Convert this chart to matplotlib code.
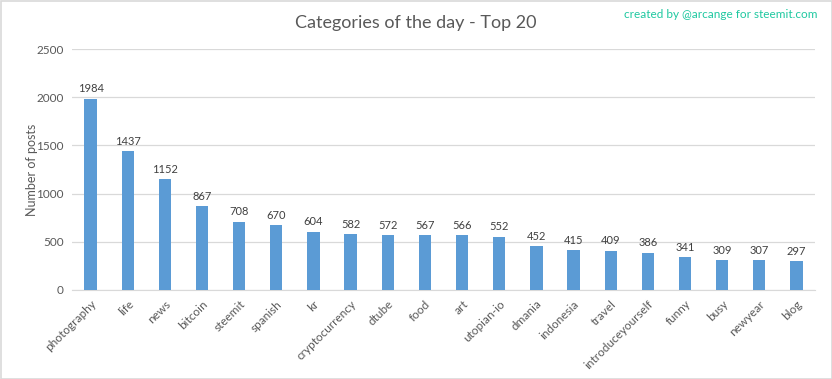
import matplotlib
matplotlib.use("Agg")
import matplotlib.pyplot as plt
from matplotlib.patches import Rectangle

categories = ["photography", "life", "news", "bitcoin", "steemit", "spanish", "kr",
              "cryptocurrency", "dtube", "food", "art", "utopian-io", "dmania",
              "indonesia", "travel", "introduceyourself", "funny", "busy", "newyear", "blog"]
posts = [1984, 1437, 1152, 867, 708, 670, 604, 582, 572, 567, 566, 552, 452,
         415, 409, 386, 341, 309, 307, 297]
yticks = [0, 500, 1000, 1500, 2000, 2500]

plt.rcParams['font.family'] = ['Lato', 'DejaVu Sans']
txt = '#595959'

fig = plt.figure(figsize=(8.32, 3.79), dpi=100)
ax = fig.add_axes([72/832, 1-290/379, (815-72)/832, (290-49)/379])

x = list(range(len(categories)))
bars = ax.bar(x, posts, width=0.33, color='#5B9BD5', zorder=3)
for xi, v in zip(x, posts):
    ax.text(xi, v + 45, str(v), ha='center', va='bottom', fontsize=8, color='#404040')

ax.set_xlim(-0.5, len(categories) - 0.5)
ax.set_ylim(0, 2500)
ax.set_yticks(yticks)
ax.set_yticklabels([str(t) for t in yticks], fontsize=8.5, color=txt)
ax.yaxis.grid(True, color='#d9d9d9', linewidth=0.9, zorder=0)
ax.set_xticks(x)
ax.set_xticklabels(categories, rotation=45, ha='right', rotation_mode='anchor',
                   fontsize=8.5, color=txt)
ax.tick_params(axis='both', length=0, pad=6)
for s in ['top', 'right', 'left']:
    ax.spines[s].set_visible(False)
ax.spines['bottom'].set_color('#d9d9d9')
ax.set_ylabel('Number of posts', fontsize=9, color=txt, labelpad=-1)

fig.text(0.5, 1-23/379, 'Categories of the day - Top 20', ha='center', va='center',
         fontsize=13, color=txt)
fig.text(1-14/832, 1-14/379, 'created by @arcange for steemit.com', ha='right', va='center',
         fontsize=8.5, color='#1ec8a0')

fig.patches.append(Rectangle((0.5/832, 0.5/379), 1-1/832, 1-1/379, transform=fig.transFigure,
                             fill=False, edgecolor='#d9d9d9', linewidth=1.2))
fig.savefig('out.png', dpi=100)
